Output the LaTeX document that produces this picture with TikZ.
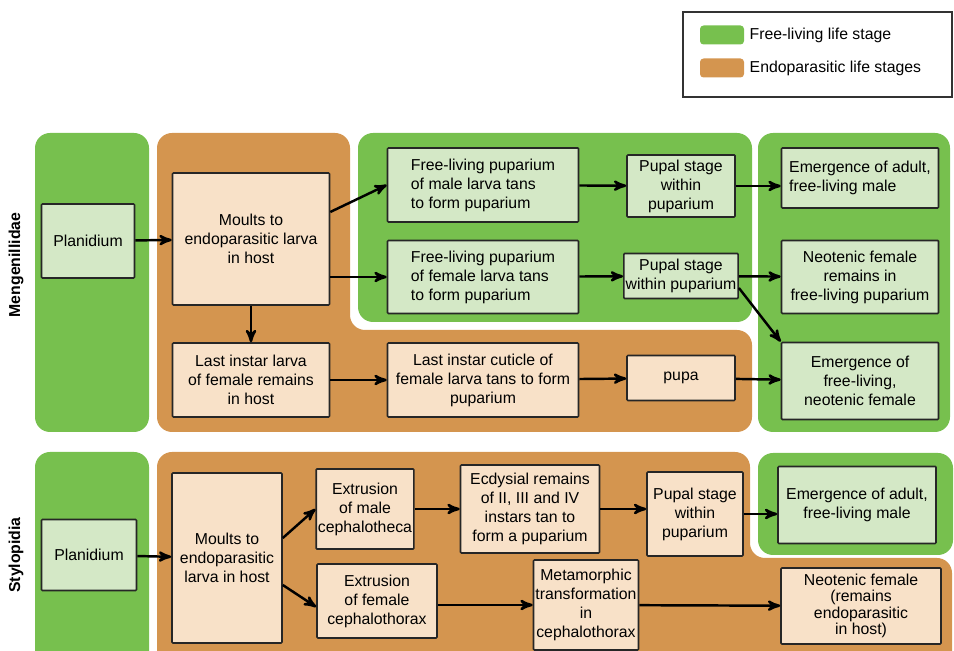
\documentclass[tikz,border=0pt]{standalone}
\usepackage{fontspec}
\setmainfont{Liberation Sans}
\usetikzlibrary{arrows,calc,positioning}
\definecolor{freegreen}{HTML}{77C04E}
\definecolor{endoorange}{HTML}{D4954F}
\definecolor{freelight}{HTML}{D4E8C6}
\definecolor{endolight}{HTML}{F8E1C8}
\begin{document}
\begin{tikzpicture}[x=0.02cm,y=-0.02cm,
    stage/.style={draw=black!85,line width=0.9pt,rounded corners=0.5pt,align=center,
        inner sep=1pt,font=\fontsize{9}{10.8}\selectfont},
    free/.style={stage,fill=freelight},
    endo/.style={stage,fill=endolight},
    wh/.style 2 args={minimum width=#1*0.02cm,minimum height=#2*0.02cm},
    link/.style={line width=1.4pt,->,>=stealth'},
    region/.style={rounded corners=0.3cm},
    family/.style={rotate=90,font=\fontsize{9}{10.8}\selectfont\bfseries}]
\useasboundingbox (0,0) rectangle (954,651);
\clip (0,0) rectangle (954,651);

% legend
\draw[line width=1.2pt,black!80] (683,12) rectangle (952,97);
\node[fill=freegreen,rounded corners=2pt,wh={44}{19}] (legFree) at (722,35) {};
\node[right=0.1cm of legFree,inner sep=0pt,font=\fontsize{9}{10.8}\selectfont] (legFreeTxt) {Free-living life stage};
\node[fill=endoorange,rounded corners=2pt,wh={44}{19}] (legEndo) at (722,68) {};
\node[right=0.1cm of legEndo,inner sep=0pt,font=\fontsize{9}{10.8}\selectfont] (legEndoTxt) {Endoparasitic life stages};

% Mengenillidae
\fill[freegreen,region] (35,133) rectangle (149,432);
\fill[endoorange,region] (157,133) -- (350,133) -- (350,330) -- (752,330) -- (752,432) -- (157,432) -- cycle;
\fill[freegreen,region] (358,133) rectangle (752,322);
\fill[freegreen,region] (758,133) rectangle (950,432);
\node[family] (mName) at (16,265) {Mengenillidae};

\node[free,wh={93}{74}] (mPlan) at (88,241) {Planidium};
\node[endo,wh={157}{132}] (mMoult) at (251,239) {Moults to\\endoparasitic larva\\in host};
\node[endo,wh={157}{74}] (mLast) at (251,380) {Last instar larva\\of female remains\\in host};
\node[free,wh={191}{74},align=left] (mMale) at (483,185) {Free-living puparium\\of male larva tans\\to form puparium};
\node[free,wh={191}{73},align=left] (mFemale) at (483,277) {Free-living puparium\\of female larva tans\\to form puparium};
\node[endo,wh={191}{74}] (mCuticle) at (483,380) {Last instar cuticle of\\female larva tans to form\\puparium};
\node[free,wh={108}{62}] (mPupa1) at (681,186) {Pupal stage\\within\\puparium};
\node[free,wh={108}{45}] (mPupa2) at (681,276) {Pupal stage\\within puparium};
\node[endo,wh={108}{45}] (mPupa) at (681,378) {pupa};
\node[free,wh={157}{60},align=left] (mAdult) at (860,178) {Emergence of adult,\\free-living male};
\node[free,wh={157}{73}] (mNeo) at (860,277) {Neotenic female\\remains in\\free-living puparium};
\node[free,wh={157}{77}] (mEmerge) at (860,381) {Emergence of\\free-living,\\neotenic female};

\draw[link] (mPlan) -- (mMoult);
\draw[link] ($(mMoult.east)+(0,-27)$) -- (mMale.west);
\draw[link] (mMoult.east |- mFemale) -- (mFemale.west);
\draw[link] (mMoult.south) -- (mLast.north);
\draw[link] (mLast) -- (mCuticle);
\draw[link] (mMale) -- (mPupa1);
\draw[link] (mFemale) -- (mPupa2);
\draw[link] (mCuticle) -- (mPupa);
\draw[link] (mPupa1) -- (mPupa1 -| mAdult.west);
\draw[link] (mPupa2) -- (mNeo);
\draw[link] ($(mPupa2.east)+(0,12)$) -- (mEmerge.north west);
\draw[link] (mPupa) -- (mEmerge);

% Stylopidia
\fill[freegreen,region] (35,452) rectangle (149,670);
\fill[endoorange,region] (157,452) -- (750,452) -- (750,558) -- (952,558) -- (952,670) -- (157,670) -- cycle;
\fill[freegreen,region] (758,453) rectangle (953,555);
\node[family] (sName) at (16,555) {Stylopidia};

\node[free,wh={95}{71}] (sPlan) at (89,555) {Planidium};
\node[endo,wh={110}{170}] (sMoult) at (227,558) {Moults to\\endoparasitic\\larva in host};
\node[endo,wh={96}{80}] (sExtM) at (365,509) {Extrusion\\of male\\cephalotheca};
\node[endo,wh={120}{74}] (sExtF) at (377,601) {Extrusion\\of female\\cephalothorax};
\node[endo,wh={139}{88}] (sEcdy) at (530,509) {Ecdysial remains\\of II, III and IV\\instars tan to\\form a puparium};
\node[endo,wh={96}{84}] (sPupa) at (695,514) {Pupal stage\\within\\puparium};
\node[free,wh={158}{77}] (sAdult) at (857,505) {Emergence of adult,\\free-living male};
\node[endo,wh={105}{90}] (sMeta) at (586,605) {Metamorphic\\transformation\\in\\cephalothorax};
\node[endo,wh={160}{76},font=\fontsize{9}{9.4}\selectfont] (sNeo) at (861,606) {Neotenic female\\(remains\\endoparasitic\\in host)};

\draw[link] (sPlan) -- (sMoult);
\draw[link] ($(sMoult.east)+(0,-20)$) -- (sExtM.west);
\draw[link] ($(sMoult.east)+(0,27)$) -- ($(sExtF.west)+(0,6)$);
\draw[link] (sExtM) -- (sEcdy);
\draw[link] (sEcdy) -- (sEcdy -| sPupa.west);
\draw[link] (sPupa) -- (sPupa -| sAdult.west);
\draw[link] (sExtF.east |- sMeta) -- (sMeta.west);
\draw[link] (sMeta) -- (sNeo);
\end{tikzpicture}
\end{document}
